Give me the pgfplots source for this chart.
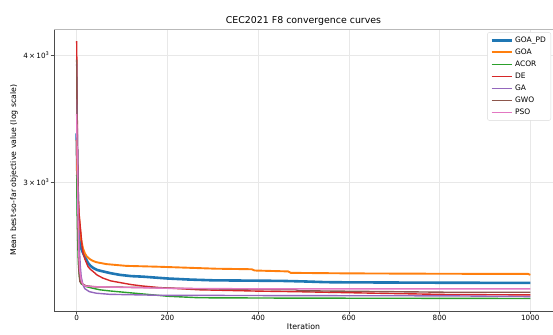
\documentclass[border=0pt]{standalone}
\usepackage{pgfplots}
\pgfplotsset{compat=1.18}
\usepackage{fontspec}
\setmainfont{DejaVu Sans}
\definecolor{tabblue}{HTML}{1F77B4}
\definecolor{taborange}{HTML}{FF7F0E}
\definecolor{tabgreen}{HTML}{2CA02C}
\definecolor{tabred}{HTML}{D62728}
\definecolor{tabpurple}{HTML}{9467BD}
\definecolor{tabbrown}{HTML}{8C564B}
\definecolor{tabpink}{HTML}{E377C2}
\begin{document}
\begin{tikzpicture}
\begin{axis}[
  scale only axis, width=499pt, height=281.7pt,
  xmin=-50, xmax=1050, ymode=log, ymin=2240, ymax=4241,
  xtick={0,200,400,600,800,1000},
  ytick={3000,4000}, minor ytick={},
  yticklabels={3\,×\,10\textsuperscript{3},4\,×\,10\textsuperscript{3}},
  /pgf/number format/assume math mode=true,
  /pgf/number format/1000 sep={},
  grid=major, major grid style={gray!18, line width=0.6pt},
  axis x line*=bottom, axis y line*=left,
  tick align=outside, major tick length=3.5pt,
  tick style={black!70, line width=0.6pt},
  axis line style={black!70, line width=0.8pt},
  tick label style={font=\fontsize{7.2}{8}\selectfont},
  xticklabel style={anchor=north, inner sep=0pt, yshift=-1pt},
  yticklabel style={anchor=east, inner sep=0pt, xshift=-1pt},
  title={CEC2021 F8 convergence curves},
  title style={at={(axis description cs:0.5,1)}, anchor=base, yshift=0pt, font=\fontsize{9.4}{11}\selectfont},
  xlabel={Iteration},
  xlabel style={at={([yshift=-16pt]axis description cs:0.5,0)}, anchor=center, font=\fontsize{7.8}{9}\selectfont},
  ylabel={Mean best-so-far objective value (log scale)},
  ylabel style={at={([xshift=-40pt]axis description cs:0,0.5)}, anchor=center, font=\fontsize{7.8}{9}\selectfont},
  legend cell align=left,
  legend style={at={([xshift=-2pt,yshift=-3pt]axis description cs:1,1)}, anchor=north east,
    font=\fontsize{7.5}{9}\selectfont, draw=gray!30, rounded corners=2pt, fill=white,
    nodes={text height=6pt, text depth=2pt, inner sep=2pt}, row sep=0pt},
  legend image code/.code={\draw[mark repeat=2,mark phase=2,#1] plot coordinates {(0pt,0pt) (10pt,0pt) (20pt,0pt)};},
]
\draw[gray!55, line width=1pt] (rel axis cs:0,1) -- (rel axis cs:1,1);
\addplot[tabblue, line width=2.6pt] coordinates {
(0,3350) (1,3150) (2,2950) (3,2820) (4,2740) (5,2700) (7,2640) (10,2580) (14,2555) (20,2522) (25,2497) (30,2482) (36,2470) (45,2458) (58,2450) (75,2440) (95,2431) (120,2424) (146,2421) (200,2411) (250,2405) (300,2401) (400,2399) (450,2398) (500,2395) (550,2391) (600,2390) (700,2389) (800,2388) (1000,2387)};
\addlegendentry{GOA\_PD}
\addplot[taborange, line width=1.9pt] coordinates {
(0,3300) (1,3100) (2,2950) (3,2870) (5,2780) (7,2710) (10,2632) (14,2580) (18,2553) (22,2535) (29,2519) (35,2510) (43,2502) (65,2491) (109,2481) (182,2476) (250,2470) (307,2465) (386,2462) (392,2455) (466,2450) (472,2442) (600,2439) (800,2437) (995,2436) (1000,2431)};
\addlegendentry{GOA}
\addplot[tabgreen, line width=1.4pt] coordinates {
(0,3050) (1,2800) (2,2650) (3,2550) (4,2480) (6,2420) (8,2395) (10,2382) (21,2367) (36,2358) (51,2350) (73,2344) (109,2336) (160,2325) (200,2316) (270,2308) (483,2306) (820,2305) (1000,2304)};
\addlegendentry{ACOR}
\addplot[tabred, line width=1.4pt] coordinates {
(0,4129) (1,3600) (2,3200) (3,3000) (4,2880) (5,2800) (7,2740) (9,2680) (12,2590) (14,2555) (18,2520) (22,2495) (25,2477) (30,2462) (36,2450) (45,2430) (58,2413) (75,2398) (95,2389) (120,2378) (146,2370) (182,2362) (270,2350) (400,2343) (483,2340) (655,2332) (820,2325) (1000,2323)};
\addlegendentry{DE}
\addplot[tabpurple, line width=1.4pt] coordinates {
(0,3920) (1,3500) (2,3200) (3,2950) (4,2780) (5,2650) (6,2580) (8,2480) (10,2420) (14,2375) (18,2356) (28,2340) (43,2332) (73,2326) (182,2321) (500,2319) (820,2318) (1000,2314)};
\addlegendentry{GA}
\addplot[tabbrown, line width=1.4pt] coordinates {
(0,3960) (1,3400) (2,3000) (3,2750) (4,2550) (5,2450) (7,2395) (10,2385) (20,2372) (40,2366) (100,2364) (160,2362) (270,2355) (483,2350) (490,2345) (655,2341) (820,2337) (1000,2337)};
\addlegendentry{GWO}
\addplot[tabpink, line width=1.4pt] coordinates {
(0,3500) (1,3200) (2,2950) (3,2750) (4,2620) (5,2530) (7,2450) (10,2400) (14,2377) (20,2370) (36,2367) (100,2363) (200,2358) (400,2355) (1000,2355)};
\addlegendentry{PSO}
\end{axis}
\pgfresetboundingbox
\path (-54pt,-23pt) rectangle (499pt,311pt);
\end{tikzpicture}
\end{document}
